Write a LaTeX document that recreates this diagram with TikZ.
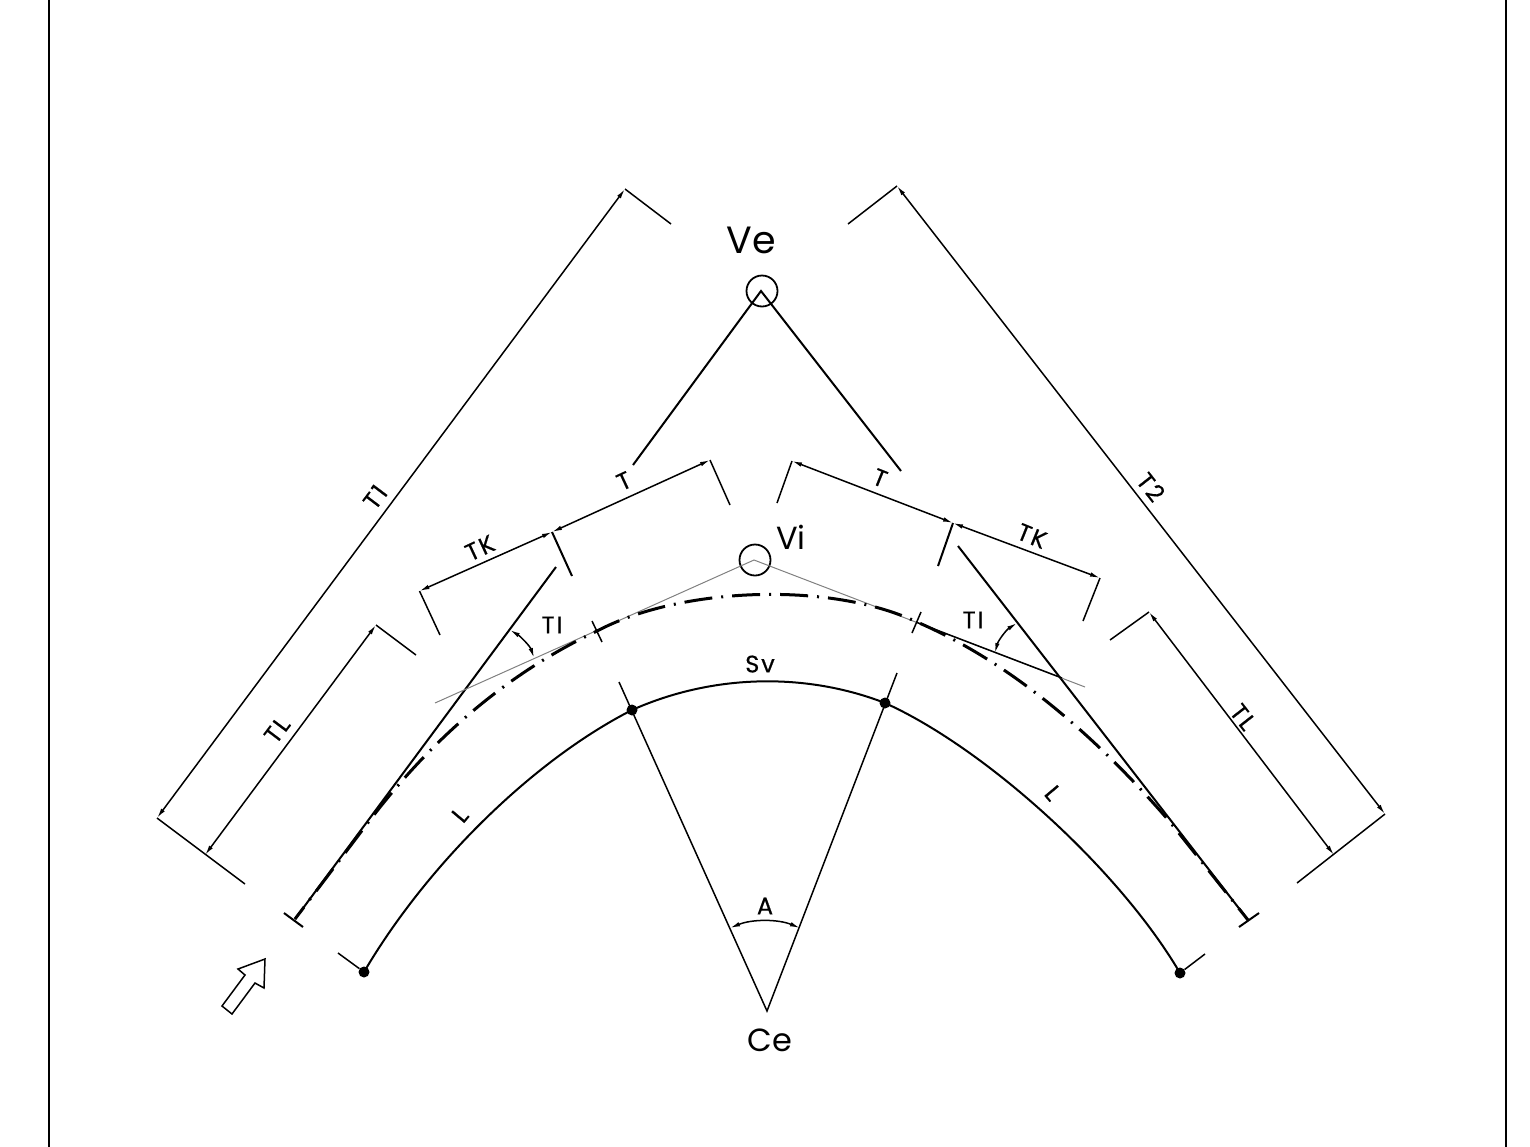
\documentclass[tikz,border=0pt]{standalone}
\usepackage{fontspec}
\setmainfont{Poppins}
\newfontfamily\smallface[FakeBold=0.5,LetterSpace=8,Kerning=Off]{Poppins}
\usetikzlibrary{arrows.meta}
\tikzset{
    frame-line/.style = {draw=black, line width=2.5pt},
    dim-line/.style = {draw=black, line width=1.5pt, {Latex[length=10pt,width=4.5pt]}-{Latex[length=10pt,width=4.5pt]}},
    ext-line/.style = {draw=black, line width=1.5pt},
    road-line/.style = {draw=black, line width=2pt},
    axis-line/.style = {draw=black, line width=3pt, dash pattern=on 28pt off 9pt on 2pt off 9pt, dash phase=13pt},
    grey-line/.style = {draw=black!50, line width=1pt},
    spot/.style = {circle, fill=black, inner sep=0pt, minimum size=11pt},
    ring/.style = {circle, draw=black, line width=1.8pt, inner sep=0pt, minimum size=31pt},
    small-label/.style = {inner sep=0pt, font=\smallface\fontsize{24}{24}\selectfont},
    big-label/.style = {inner sep=0pt, font=\fontsize{32}{32}\selectfont},
}
\begin{document}
\begin{tikzpicture}[x=1pt,y=-1pt]
\useasboundingbox (0,0) rectangle (1530,1146);
% frame
\coordinate (frame-nw) at (49,-5);
\coordinate (frame-sw) at (49,1151);
\coordinate (frame-ne) at (1506,-5);
\coordinate (frame-se) at (1506,1151);
\draw [frame-line] (frame-nw) -- (frame-sw);
\draw [frame-line] (frame-ne) -- (frame-se);

% main points
\node [ring] (ve) at (762,291) {};
\node [ring] (vi) at (755,560) {};
\coordinate (ve-apex) at (761,291);
\coordinate (vi-apex) at (754,560);
\coordinate (ce) at (767,1011);
\node [spot] (pc-left) at (364,972) {};
\node [spot] (pc-right) at (1180,973) {};
\node [spot] (sv-left) at (632,710) {};
\node [spot] (sv-right) at (885,703) {};

% tangents at the vertex
\coordinate (ve-end-left) at (633,465);
\coordinate (ve-end-right) at (901,471);
\draw [road-line] (ve-end-left) -- (ve-apex) -- (ve-end-right);
\coordinate (tan-left-a) at (556,567);
\coordinate (tan-left-b) at (295,919);
\coordinate (tan-right-a) at (958,546);
\coordinate (tan-right-b) at (1248,920);
\draw [road-line] (tan-left-a) -- (tan-left-b);
\draw [road-line] (tan-right-a) -- (tan-right-b);
\coordinate (tick-left-a) at (284,913);
\coordinate (tick-left-b) at (303,927);
\coordinate (tick-right-a) at (1239,927);
\coordinate (tick-right-b) at (1259,913);
\draw [road-line] (tick-left-a) -- (tick-left-b);
\draw [road-line] (tick-right-a) -- (tick-right-b);

% grey chords
\coordinate (chord-left) at (435,703);
\coordinate (chord-right) at (1085,687);
\coordinate (chord-mid) at (917,622.5);
\coordinate (chord-stop) at (1062,678);
\draw [grey-line] (chord-left) -- (vi-apex) -- (chord-right);
\draw [ext-line] (chord-mid) -- (chord-stop);

% axis
\draw [axis-line] (tan-left-b) -- (370,820) .. controls (435,735) and (510,672) .. (597,631) .. controls (680,587) and (830,581) .. (917,622) .. controls (1010,662) and (1095,735) .. (1170,822) -- (tan-right-b);
\coordinate (mark-left-a) at (592,621);
\coordinate (mark-left-b) at (602,642);
\coordinate (mark-right-a) at (921,612);
\coordinate (mark-right-b) at (912,633);
\draw [ext-line] (mark-left-a) -- (mark-left-b);
\draw [ext-line] (mark-right-a) -- (mark-right-b);

% curve
\draw [road-line] (pc-left.center) .. controls (425,868) and (530,762) .. (sv-left.center) .. controls (715,673) and (808,673) .. (sv-right.center) .. controls (985,748) and (1119,869) .. (pc-right.center);
\coordinate (radial-left) at (619,682);
\coordinate (radial-right) at (897,673);
\draw [ext-line] (radial-left) -- (ce) -- (radial-right);
\coordinate (end-left) at (338,953);
\coordinate (end-right) at (1205,954);
\draw [ext-line] (end-left) -- (pc-left);
\draw [ext-line] (end-right) -- (pc-right);

% T1 and T2
\coordinate (t1-a) at (157,818);
\coordinate (t1-b) at (625,189);
\coordinate (t2-a) at (897,186);
\coordinate (t2-b) at (1385,814);
\draw [dim-line] (t1-a) -- (t1-b);
\draw [dim-line] (t2-a) -- (t2-b);
\coordinate (t1-ext-b) at (671,224);
\coordinate (t1-ext-a) at (245,884);
\coordinate (t2-ext-a) at (848,224);
\coordinate (t2-ext-b) at (1297,883);
\draw [ext-line] (t1-b) -- (t1-ext-b);
\draw [ext-line] (t1-a) -- (t1-ext-a);
\draw [ext-line] (t2-a) -- (t2-ext-a);
\draw [ext-line] (t2-b) -- (t2-ext-b);

% TL
\coordinate (tl-left-a) at (205,855);
\coordinate (tl-left-b) at (376,625);
\coordinate (tl-right-a) at (1149,612);
\coordinate (tl-right-b) at (1334,855);
\draw [dim-line] (tl-left-a) -- (tl-left-b);
\draw [dim-line] (tl-right-a) -- (tl-right-b);
\coordinate (tl-left-ext) at (416,655);
\coordinate (tl-right-ext) at (1110,640);
\draw [ext-line] (tl-left-b) -- (tl-left-ext);
\draw [ext-line] (tl-right-a) -- (tl-right-ext);

% T and TK
\coordinate (t-left-a) at (710,460);
\coordinate (t-left-b) at (552,532);
\coordinate (tk-left-a) at (419.5,591);
\draw [dim-line] (t-left-a) -- (t-left-b);
\draw [dim-line] (t-left-b) -- (tk-left-a);
\coordinate (t-left-ext) at (730,505);
\coordinate (t-left-mid) at (572,576);
\coordinate (tk-left-ext) at (440,635);
\draw [ext-line] (t-left-a) -- (t-left-ext);
\draw [road-line] (t-left-b) -- (t-left-mid);
\draw [ext-line] (tk-left-a) -- (tk-left-ext);
\coordinate (t-right-a) at (792,461);
\coordinate (t-right-b) at (953,523);
\coordinate (tk-right-a) at (1100,578);
\draw [dim-line] (t-right-a) -- (t-right-b);
\draw [dim-line] (t-right-b) -- (tk-right-a);
\coordinate (t-right-ext) at (777,503);
\coordinate (t-right-mid) at (938,566);
\coordinate (tk-right-ext) at (1083,621);
\draw [ext-line] (t-right-a) -- (t-right-ext);
\draw [road-line] (t-right-b) -- (t-right-mid);
\draw [ext-line] (tk-right-a) -- (tk-right-ext);

% angles
\coordinate (a-left) at (730,928);
\coordinate (a-right) at (800,928);
\draw [dim-line] (a-left) .. controls (752,919) and (778,919) .. (a-right);
\coordinate (ti-left-a) at (510,630);
\coordinate (ti-left-b) at (534,658);
\draw [dim-line] (ti-left-a) .. controls (520,636) and (530,646) .. (ti-left-b);
\coordinate (ti-right-a) at (1017,623);
\coordinate (ti-right-b) at (995,653);
\draw [dim-line] (ti-right-a) .. controls (1006,630) and (998,641) .. (ti-right-b);

% entry arrow
\draw [ext-line] (222,1006) -- (232,1014) -- (255,983) -- (264,988) -- (265,959) -- (238,969) -- (245,975) -- cycle;

% labels
\node [big-label, font=\fontsize{38}{38}\selectfont] (ve-label) at (751,240) {Ve};
\node [big-label] (vi-label) at (791,537) {Vi};
\node [big-label] (ce-label) at (770,1040) {Ce};
\node [small-label, rotate=53] (t1-label) at (375,497) {T1};
\node [small-label, rotate=-52] (t2-label) at (1151,487) {T2};
\node [small-label, rotate=53] (tl-left-label) at (277,730) {TL};
\node [small-label, rotate=-52] (tl-right-label) at (1243,717) {TL};
\node [small-label, rotate=25] (tk-left-label) at (480,548) {TK};
\node [small-label, rotate=-22] (tk-right-label) at (1032,536) {TK};
\node [small-label, rotate=25] (t-left-label) at (624,481) {T};
\node [small-label, rotate=-22] (t-right-label) at (880,478) {T};
\node [small-label] (ti-left-label) at (552,625) {TI};
\node [small-label] (ti-right-label) at (973,620) {TI};
\node [small-label] (sv-label) at (760,664) {Sv};
\node [small-label, rotate=50] (l-left-label) at (460,815) {L};
\node [small-label, rotate=-50] (l-right-label) at (1053,793) {L};
\node [small-label] (a-label) at (765,906) {A};
\end{tikzpicture}
\end{document}
